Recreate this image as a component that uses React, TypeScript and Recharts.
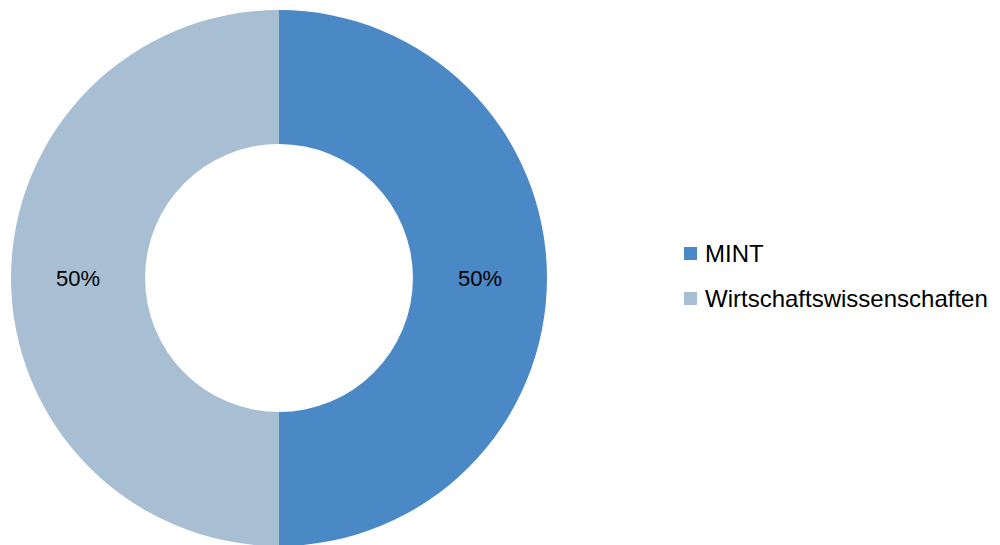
import { Cell, Legend, Pie, PieChart } from 'recharts'

const categories = ['MINT', 'Wirtschaftswissenschaften']
const shares = [50, 50]
const colors = ['#4A88C6', '#A8BED3']

const data = categories.map((name, i) => ({ name, value: shares[i], color: colors[i] }))

const FONT = '"Liberation Sans", Arial, sans-serif'
const RAD = Math.PI / 180

function renderLabel(props: any) {
  const { cx, cy, midAngle, innerRadius, outerRadius, percent } = props
  const r = (innerRadius + outerRadius) / 2
  const x = cx + r * Math.cos(-midAngle * RAD)
  const y = cy + r * Math.sin(-midAngle * RAD)
  return (
    <text x={x} y={y} fill="#000" fontSize={22} fontFamily={FONT} textAnchor="middle" dominantBaseline="central">
      {`${Math.round(percent * 100)}%`}
    </text>
  )
}

function LegendContent() {
  return (
    <div style={{ fontFamily: FONT, fontSize: 24, color: '#000' }}>
      {data.map(entry => (
        <div key={entry.name} style={{ display: 'flex', alignItems: 'center', height: 45 }}>
          <span style={{ width: 13, height: 13, background: entry.color, marginRight: 8, flexShrink: 0 }} />
          <span>{entry.name}</span>
        </div>
      ))}
    </div>
  )
}

export default function App() {
  return (
    <div style={{ position: 'absolute', left: 0, top: 0, width: 1000, height: 545, background: '#fff' }}>
      <PieChart width={1000} height={545} margin={{ top: 0, right: 0, bottom: 0, left: 0 }}>
        <Pie
          data={data}
          dataKey="value"
          cx={279}
          cy={278}
          innerRadius={134}
          outerRadius={268}
          startAngle={90}
          endAngle={-270}
          stroke="none"
          label={renderLabel}
          labelLine={false}
          isAnimationActive={false}
        >
          {data.map(entry => (
            <Cell key={entry.name} fill={entry.color} />
          ))}
        </Pie>
        <Legend content={<LegendContent />} wrapperStyle={{ left: 684, top: 231, width: 316 }} />
      </PieChart>
    </div>
  )
}
